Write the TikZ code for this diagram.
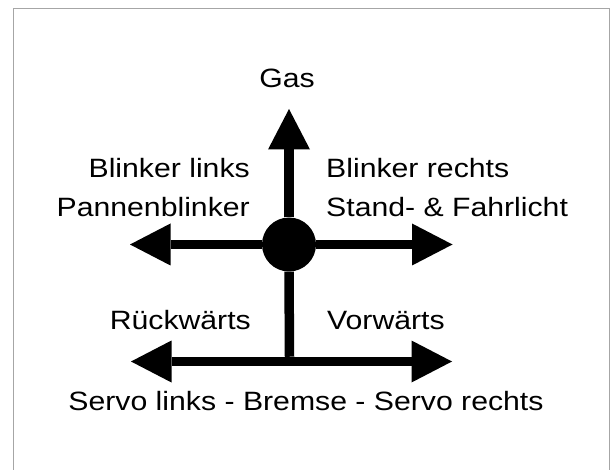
\documentclass[tikz,border=0pt]{standalone}
\usepackage{fontspec}
\setmainfont{Liberation Sans}[FakeStretch=1.14]
\usetikzlibrary{arrows.meta}
\begin{document}
\begin{tikzpicture}[x=1pt,y=-1pt,
  lbl/.style={inner sep=0pt,font=\fontsize{26.5}{30}\selectfont,text=black},
  arr/.style={line width=9.5pt,-{Triangle[length=40.5pt,width=42pt,line width=0pt]}},
  shaft/.style={line width=9.5pt},
  frame/.style={draw=black!35,line width=1pt}]
\useasboundingbox (0,0) rectangle (613,470);
\fill[white] (0,0) rectangle (613,470);
\draw[frame] (13,470) -- (13,9) -- (609,9) -- (609,470);
% hub
\node[circle,fill=black,minimum size=54pt,inner sep=0pt] (c) at (289,244.5) {};
% free ends
\coordinate (gasend) at (289,109);
\coordinate (leftend) at (130,244.5);
\coordinate (rightend) at (452.5,244.5);
\coordinate (j) at (289.5,361.5);
\coordinate (bleft) at (131,361.5);
\coordinate (bright) at (452,361.5);
% connectors
\draw[arr] (c) -- (gasend);
\draw[arr] (c) -- (leftend);
\draw[arr] (c) -- (rightend);
\draw[shaft] (c.south) -- ([yshift=4.75pt]j);
\draw[arr] (j) -- (bleft);
\draw[arr] (j) -- (bright);
% labels
\node[lbl,anchor=base] (gas) at (287,87.7) {Gas};
\node[lbl,anchor=base east] (bl) at (250,177.5) {Blinker links};
\node[lbl,anchor=base east] (pb) at (250,216.5) {Pannenblinker};
\node[lbl,anchor=base west] (br) at (326,177.5) {Blinker rechts};
\node[lbl,anchor=base west] (sf) at (326,216.5) {Stand- \& Fahrlicht};
\node[lbl,anchor=base east] (rw) at (251,330) {Rückwärts};
\node[lbl,anchor=base west] (vw) at (327,330) {Vorwärts};
\node[lbl,anchor=base] (servo) at (306,410.5) {Servo links - Bremse - Servo rechts};
\end{tikzpicture}
\end{document}
